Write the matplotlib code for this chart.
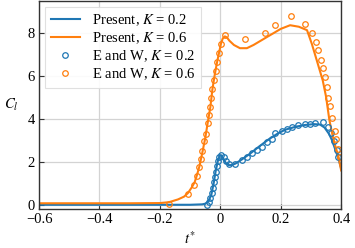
import matplotlib
matplotlib.use("Agg")
import matplotlib.pyplot as plt

plt.rcParams['font.family'] = ['Liberation Serif', 'DejaVu Serif']
plt.rcParams['mathtext.fontset'] = 'stix'
plt.rcParams['font.size'] = 10.5

# present solution, K = 0.2
t_pres_02 = [-0.6, -0.3, -0.1, -0.06, -0.05, -0.04, -0.03, -0.022, -0.015, -0.008, -0.002,
             0.004, 0.01, 0.018, 0.027, 0.038, 0.05, 0.07, 0.1, 0.127, 0.16, 0.19, 0.215,
             0.25, 0.28, 0.31, 0.33, 0.345, 0.36, 0.37, 0.38, 0.39, 0.4]
c_pres_02 = [0.0, 0.0, 0.0, 0.02, 0.05, 0.15, 0.45, 1.0, 1.6, 2.05, 2.28,
             2.3, 2.15, 1.95, 1.85, 1.85, 1.92, 2.1, 2.4, 2.7, 3.05, 3.32, 3.5,
             3.64, 3.72, 3.76, 3.74, 3.6, 3.3, 3.0, 2.6, 2.2, 1.7]

# present solution, K = 0.6
t_pres_06 = [-0.6, -0.3, -0.2, -0.17, -0.14, -0.12, -0.107, -0.095, -0.085, -0.077, -0.069,
             -0.06, -0.05, -0.042, -0.033, -0.026, -0.018, -0.01, -0.004, 0.002, 0.008,
             0.015, 0.022, 0.03, 0.045, 0.065, 0.088, 0.11, 0.14, 0.17, 0.2, 0.231,
             0.26, 0.287, 0.303, 0.32, 0.339, 0.35, 0.361, 0.375, 0.391, 0.4]
c_pres_06 = [0.07, 0.07, 0.08, 0.12, 0.25, 0.38, 0.55, 0.8, 1.05, 1.4, 1.8,
             2.4, 3.1, 3.8, 4.55, 5.4, 6.1, 6.7, 7.1, 7.5, 7.75,
             7.85, 7.8, 7.65, 7.45, 7.3, 7.3, 7.45, 7.7, 7.95, 8.2, 8.37,
             8.3, 8.14, 7.5, 6.7, 5.8, 5.04, 3.95, 3.0, 2.25, 1.6]

# E and W data, K = 0.2
t_ew_02 = [-0.044, -0.038, -0.033, -0.028, -0.024, -0.021, -0.018, -0.015, -0.012, -0.009,
           -0.004, 0.003, 0.012, 0.02, 0.03, 0.05, 0.072, 0.088, 0.105, 0.121, 0.138,
           0.154, 0.171, 0.182, 0.204, 0.222, 0.237, 0.258, 0.279, 0.297, 0.314, 0.339,
           0.355, 0.368, 0.377, 0.386, 0.391]
c_ew_02 = [0.0, 0.12, 0.3, 0.55, 0.8, 1.05, 1.3, 1.55, 1.8, 2.05,
           2.25, 2.3, 2.25, 2.05, 1.92, 1.9, 2.09, 2.25, 2.4, 2.56, 2.71,
           2.92, 3.07, 3.33, 3.46, 3.52, 3.64, 3.7, 3.75, 3.78, 3.8, 3.87,
           3.64, 3.35, 2.95, 2.56, 2.25]

# E and W data, K = 0.6
t_ew_06 = [-0.169, -0.107, -0.088, -0.077, -0.069, -0.064, -0.059, -0.053, -0.048, -0.042,
           -0.036, -0.033, -0.03, -0.026, -0.02, -0.015, -0.01, -0.004, 0.002, 0.017,
           0.083, 0.149, 0.18, 0.234, 0.281, 0.303, 0.316, 0.324, 0.333, 0.339, 0.345,
           0.353, 0.357, 0.363, 0.369, 0.38, 0.384, 0.39, 0.397]
c_ew_06 = [0.05, 0.5, 0.93, 1.35, 1.77, 2.14, 2.5, 2.97, 3.3, 3.8,
           4.19, 4.55, 4.97, 5.39, 5.81, 6.23, 6.65, 7.07, 7.48, 7.9,
           7.72, 8.0, 8.37, 8.79, 8.42, 8.0, 7.6, 7.2, 6.74, 6.37, 5.95,
           5.48, 5.0, 4.6, 4.03, 3.46, 3.07, 2.6, 2.23]

blue = '#1f77b4'
orange = '#ff7f0e'

fig = plt.figure(figsize=(3.55, 2.48), dpi=100)
ax = fig.add_axes([0.11, 0.157, 0.851, 0.839])

ax.plot(t_pres_02, c_pres_02, color=blue, lw=1.5, label='Present, $K$ = 0.2')
ax.plot(t_pres_06, c_pres_06, color=orange, lw=1.5, label='Present, $K$ = 0.6')
ax.plot(t_ew_02, c_ew_02, 'o', mfc='none', mec=blue, ms=4, mew=0.9, label='E and W, $K$ = 0.2')
ax.plot(t_ew_06, c_ew_06, 'o', mfc='none', mec=orange, ms=4, mew=0.9, label='E and W, $K$ = 0.6')

ax.set_xlim(-0.6, 0.4)
ax.set_ylim(-0.2, 9.5)
ax.set_xticks([-0.6, -0.4, -0.2, 0, 0.2, 0.4])
ax.set_xticklabels(['\u22120.6', '\u22120.4', '\u22120.2', '0', '0.2', '0.4'])
ax.set_yticks([0, 2, 4, 6, 8])
ax.tick_params(direction='in', length=3.5, width=0.8, pad=3, colors='#333333', labelcolor='black')
ax.grid(True, color='#d3d3d3', lw=0.9)
ax.set_axisbelow(True)
for s in ax.spines.values():
    s.set_color('#333333')
    s.set_linewidth(1.0)

ax.set_xlabel('$t^{*}$', labelpad=3)
ax.set_ylabel('$C_l$', rotation=0, labelpad=12, va='center')

leg = ax.legend(loc='upper left', numpoints=1, fontsize=10.5, handlelength=2.0,
                labelspacing=0.15, borderaxespad=0.4, fancybox=False, framealpha=0.9)
leg.get_frame().set_edgecolor('#dddddd')
leg.get_frame().set_linewidth(0.8)

fig.savefig('out.png', dpi=100)
